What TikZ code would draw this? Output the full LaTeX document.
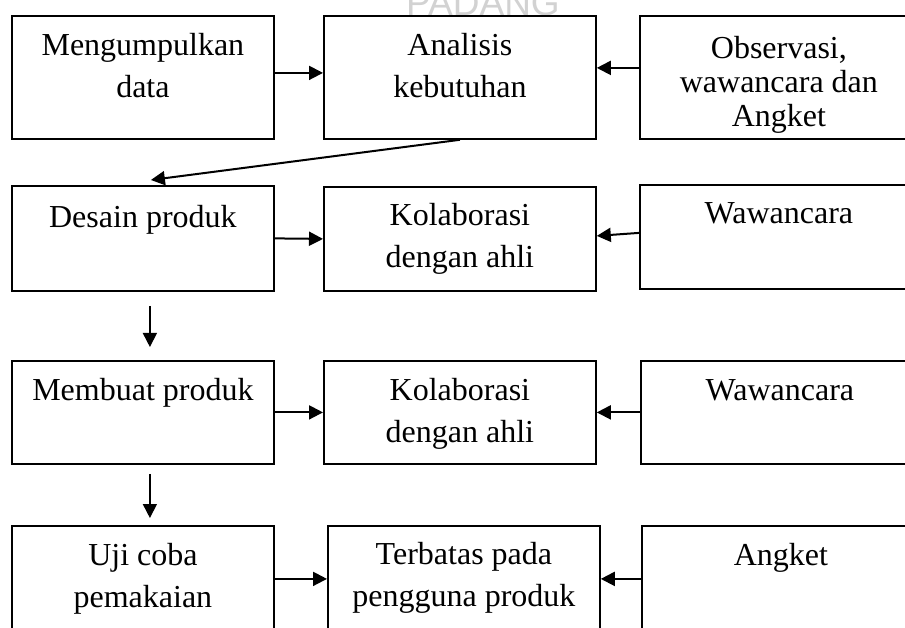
\documentclass[tikz,border=0pt]{standalone}
\usepackage{fontspec}
\setmainfont{Liberation Serif}
\newfontfamily\wmfont{Liberation Sans}
\usetikzlibrary{arrows.meta}

\begin{document}
\begin{tikzpicture}[x=1pt, y=-1pt,
	box/.style={draw, line width=1.8pt, fill=white, inner sep=0pt, anchor=north west, align=flush center, font=\fontsize{32}{42}\selectfont},
	panah/.style={line width=2pt, -{Triangle[length=14pt, width=14pt]}}]
	\useasboundingbox (0,0) rectangle (905,628);

	\node[gray!35, font=\wmfont\fontsize{37}{37}\selectfont, anchor=base] (wm) at (483,16) {PADANG};

	\node[box, text width=262pt, text height=40pt, text depth=83pt] (kumpul) at (11,15) {Mengumpulkan\\data};
	\node[box, text width=272pt, text height=40pt, text depth=83pt] (analisis) at (323,15) {Analisis\\kebutuhan};
	\node[box, text width=278pt, text height=43pt, text depth=80pt, font=\fontsize{32}{34}\selectfont] (observasi) at (639,15) {Observasi,\\wawancara dan\\Angket};

	\node[box, text width=262pt, text height=42pt, text depth=63pt] (desain) at (11,185) {Desain produk};
	\node[box, text width=272pt, text height=39pt, text depth=65pt] (kolab1) at (323,186) {Kolaborasi\\dengan ahli};
	\node[box, text width=278pt, text height=39pt, text depth=65pt] (wawan1) at (639,184) {Wawancara};

	\node[box, text width=262pt, text height=40pt, text depth=63pt] (buat) at (11,360) {Membuat produk};
	\node[box, text width=272pt, text height=40pt, text depth=63pt] (kolab2) at (323,360) {Kolaborasi\\dengan ahli};
	\node[box, text width=278pt, text height=40pt, text depth=63pt] (wawan2) at (640,360) {Wawancara};

	\node[box, text width=262pt, text height=40pt, text depth=66pt] (uji) at (11,525) {Uji coba\\pemakaian};
	\node[box, text width=272pt, text height=39pt, text depth=67pt] (terbatas) at (327,525) {Terbatas pada\\pengguna produk};
	\node[box, text width=278pt, text height=40pt, text depth=66pt] (angket) at (641,525) {Angket};

	\draw[panah] ([yshift=4.5pt]kumpul.east) -- ([yshift=4.5pt]analisis.west);
	\draw[panah] ([yshift=9.5pt]observasi.west) -- ([yshift=9.5pt]analisis.east);
	\draw[panah] (analisis.south) -- ([xshift=8pt, yshift=5pt]desain.north);

	\draw[panah] (desain.east) -- (kolab1.west);
	\draw[panah] ([yshift=4pt]wawan1.west) -- ([yshift=3pt]kolab1.east);
	\draw[panah, line width=1.6pt] ([xshift=7pt, yshift=-14pt]desain.south) -- ([xshift=7pt, yshift=13pt]buat.north);

	\draw[panah] (buat.east) -- (kolab2.west);
	\draw[panah] (wawan2.west) -- (kolab2.east);
	\draw[panah, line width=1.6pt] ([xshift=7pt, yshift=-9pt]buat.south) -- ([xshift=7pt, yshift=7pt]uji.north);

	\draw[panah] (uji.east) -- (terbatas.west);
	\draw[panah] (angket.west) -- (terbatas.east);
\end{tikzpicture}
\end{document}
